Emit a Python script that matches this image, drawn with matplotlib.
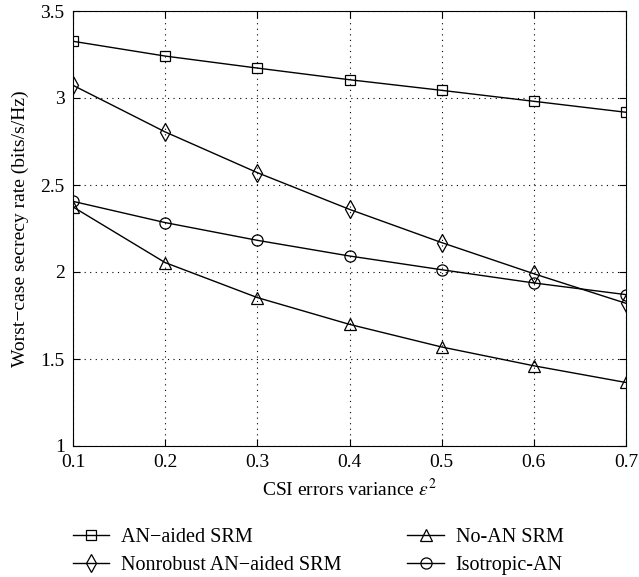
import matplotlib
matplotlib.use("Agg")
import matplotlib.pyplot as plt

x = [0.1, 0.2, 0.3, 0.4, 0.5, 0.6, 0.7]
an_aided = [3.326, 3.241, 3.172, 3.105, 3.044, 2.981, 2.918]
nonrobust = [3.073, 2.805, 2.571, 2.360, 2.169, 1.990, 1.820]
no_an = [2.374, 2.054, 1.853, 1.699, 1.569, 1.461, 1.365]
isotropic = [2.406, 2.284, 2.182, 2.092, 2.013, 1.937, 1.870]

xticks = [0.1, 0.2, 0.3, 0.4, 0.5, 0.6, 0.7]
yticks = [1, 1.5, 2, 2.5, 3, 3.5]

plt.rcParams['font.family'] = ['Liberation Serif', 'DejaVu Serif']
plt.rcParams['mathtext.fontset'] = 'stix'

fig = plt.figure(figsize=(6.39, 5.77), dpi=100)
ax = fig.add_axes([73/639, 1-446/577, (626-73)/639, (446-11)/577])

common = dict(color='black', lw=1.0, markerfacecolor='none', markeredgecolor='black',
              markeredgewidth=0.9, markersize=8)
h1, = ax.plot(x, an_aided, marker='s', label='AN\u2212aided SRM', **{**common, 'markersize': 7})
h2, = ax.plot(x, nonrobust, marker='d', label='Nonrobust AN\u2212aided SRM', **{**common, 'markersize': 9})
h3, = ax.plot(x, no_an, marker='^', label='No-AN SRM', **common)
h4, = ax.plot(x, isotropic, marker='o', label='Isotropic-AN', **common)

ax.set_xlim(0.1, 0.7)
ax.set_ylim(1, 3.5)
ax.set_xticks(xticks)
ax.set_xticklabels([f"{t:g}" for t in xticks])
ax.set_yticks(yticks)
ax.set_yticklabels([f"{t:g}" for t in yticks])
ax.grid(True, linestyle=(0, (1, 4)), color='black', lw=0.8)
ax.tick_params(direction='in', top=True, right=True, labelsize=14, length=5, width=0.8)
ax.tick_params(axis='x', pad=6)
ax.tick_params(axis='y', pad=6)
for s in ax.spines.values():
    s.set_linewidth(0.8)

ax.set_xlabel('CSI errors variance $\\varepsilon^2$', fontsize=14, labelpad=5)
ax.set_ylabel('Worst\u2212case secrecy rate (bits/s/Hz)', fontsize=14, labelpad=8)

fig.legend(handles=[h1, h2, h3, h4], ncol=2, loc='upper left',
           bbox_to_anchor=(55/639, 1-510/577), frameon=False, fontsize=14.5,
           handlelength=1.8, columnspacing=3.25, labelspacing=0.45, handletextpad=0.6)

fig.savefig('out.png', dpi=100)
